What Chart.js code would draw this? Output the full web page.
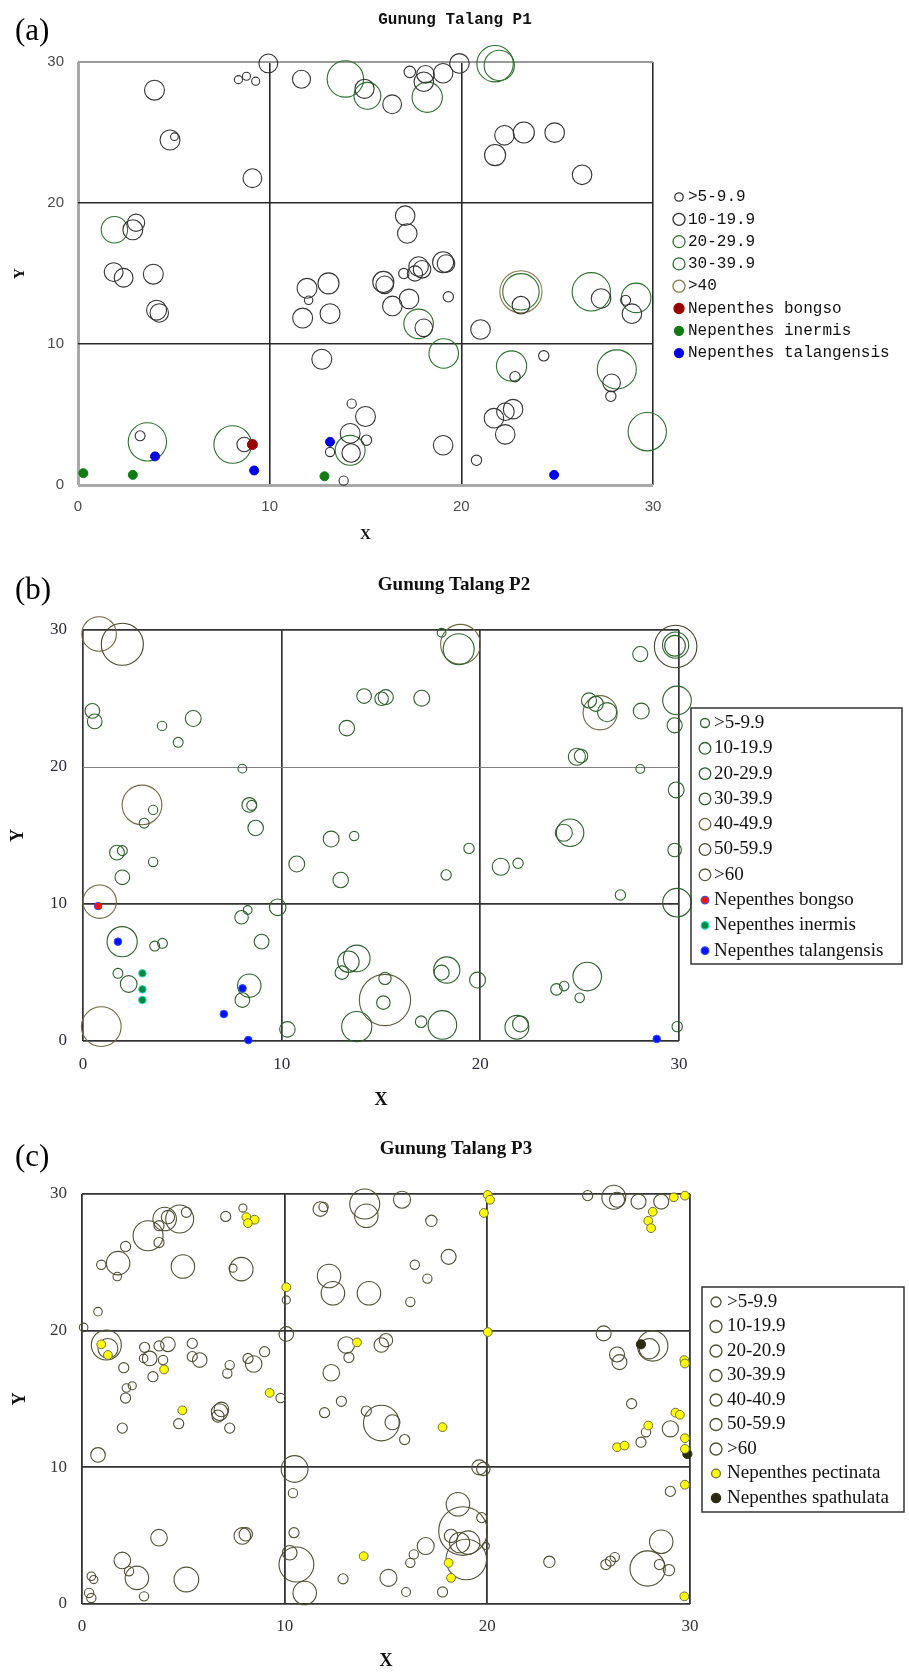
<!DOCTYPE html>
<html>
<head>
<meta charset="utf-8">
<script src="https://cdn.jsdelivr.net/npm/chart.js@4.4.1/dist/chart.umd.min.js"></script>
<style>
  html, body { margin: 0; padding: 0; background: #fff; }
  #fig { position: relative; width: 909px; height: 1673px; background: #fff; }
  #fig canvas { position: absolute; left: 0; }
</style>
</head>
<body>
<div id="fig">
  <canvas id="cA" width="909" height="560" style="top:0"></canvas>
  <canvas id="cB" width="909" height="550" style="top:560px"></canvas>
  <canvas id="cC" width="909" height="563" style="top:1110px"></canvas>
</div>
<script>
// tree positions [x, y, crown radius in metres], one array per DBH class
const axisTicks = [0, 10, 20, 30];

// Gunung Talang P1
const p1Labels = ['>5-9.9', '10-19.9', '20-29.9', '30-39.9', '>40',
  'Nepenthes bongso', 'Nepenthes inermis', 'Nepenthes talangensis'];
const p1Dbh5 = [[8.37,28.75,.21],[8.79,28.99,.21],[9.27,28.64,.21],[5.03,24.7,.2],[12.03,13.1,.22],
  [14.28,5.77,.24],[13.15,2.34,.24],[13.86,0.31,.24],[3.24,3.49,.26],[17.31,29.3,.3],[17.0,15.0,.27],
  [19.32,13.35,.27],[28.57,13.1,.26],[24.3,9.16,.27],[22.8,7.68,.27],[27.8,6.29,.27],[20.79,1.75,.27],
  [15.05,3.18,.27]];
const p1Dbh10 = [[9.93,29.9,.49],[11.66,28.78,.47],[3.99,28.0,.52],[4.8,24.47,.52],[9.1,21.76,.49],
  [2.86,18.1,.52],[3.03,18.6,.45],[1.86,15.1,.49],[2.38,14.7,.49],[3.93,14.95,.52],[4.1,12.4,.52],
  [4.24,12.2,.48],[11.95,13.95,.52],[13.07,14.3,.55],[11.72,11.84,.52],[13.15,12.15,.52],[12.72,8.92,.52],
  [15.0,4.86,.52],[14.2,3.66,.52],[14.25,2.27,.48],[8.67,2.87,.38],[14.95,28.1,.5],[16.39,27.0,.49],
  [18.13,29.13,.46],[18.04,28.6,.51],[19.05,29.2,.51],[19.9,29.9,.51],[22.25,24.8,.51],[23.26,25.0,.55],
  [24.87,24.99,.51],[21.76,23.4,.55],[26.3,22.0,.51],[17.07,19.1,.51],[17.18,17.84,.51],[19.05,15.8,.55],
  [19.2,15.7,.46],[17.77,15.5,.51],[17.95,15.3,.46],[17.58,15.0,.4],[15.93,14.4,.55],[16.0,14.2,.46],
  [16.4,12.7,.51],[17.27,13.2,.51],[18.04,11.15,.46],[23.11,12.75,.46],[27.29,13.23,.51],[28.9,12.15,.51],
  [21.0,11.03,.51],[27.84,7.25,.46],[21.7,4.74,.51],[22.3,5.2,.46],[22.7,5.38,.51],[22.29,3.59,.51],
  [19.05,2.82,.51]];
const p1Dbh20 = [[1.9,18.1,.69],[15.1,27.6,.7],[18.22,27.5,.79],[17.77,11.43,.77],[19.08,9.33,.77],
  [29.12,13.27,.77],[22.62,8.44,.79],[21.98,29.76,.79],[14.2,2.46,.78]];
const p1Dbh30 = [[13.95,28.8,.95],[21.76,29.88,.95],[23.11,13.7,.95],[26.78,13.7,1.0],[28.11,8.2,1.02],
  [29.7,3.78,1.0],[3.62,3.06,1.0],[8.07,2.87,.98]];
const p1Dbh40 = [[23.11,13.7,1.1]];
const p1Bongso = [[9.1,2.87]];
const p1Inermis = [[0.28,0.84],[2.86,0.72],[12.86,0.62]];
const p1Talang = [[13.15,3.06],[4.02,2.03],[9.19,1.03],[24.84,0.72]];

// Gunung Talang P2
const p2Labels = ['>5-9.9', '10-19.9', '20-29.9', '30-39.9', '40-49.9', '50-59.9', '>60',
  'Nepenthes bongso', 'Nepenthes inermis', 'Nepenthes talangensis'];
const p2Dbh5 = [[3.98,23.0,.235],[4.79,21.8,.25],[8.02,19.88,.22],[3.53,16.87,.235],[3.08,15.9,.25],
  [8.49,17.2,.25],[18.05,29.8,.22],[28.05,19.86,.22],[1.98,13.9,.25],[3.53,13.07,.235],[3.61,6.93,.25],
  [4.0,7.13,.25],[1.76,4.94,.25],[8.29,9.56,.22],[13.65,14.96,.235],[19.43,14.06,.26],[18.28,12.12,.26],
  [21.9,12.97,.26],[27.05,10.66,.26],[17.02,1.41,.29],[23.83,3.77,.29],[24.22,4.01,.24],[25.0,3.16,.24],
  [29.91,1.05,.26]];
const p2Dbh10 = [[0.47,24.1,.37],[0.59,23.33,.37],[5.55,23.54,.4],[8.37,17.23,.37],[8.69,15.55,.39],
  [13.28,22.84,.39],[14.15,25.18,.37],[15.03,24.98,.34],[15.24,25.1,.38],[17.05,25.02,.4],[28.05,28.24,.38],
  [29.78,23.04,.38],[25.47,24.86,.38],[25.81,24.61,.38],[28.1,24.08,.4],[24.86,20.75,.43],[25.07,20.8,.34],
  [29.86,18.33,.4],[24.2,15.2,.43],[1.71,13.75,.37],[1.98,11.95,.37],[2.3,4.16,.42],[7.98,9.03,.34],
  [9.8,9.76,.42],[8.99,7.25,.37],[8.02,2.99,.37],[10.29,0.85,.39],[10.76,12.92,.4],[12.49,14.74,.4],
  [12.97,11.75,.39],[13.03,4.99,.34],[21.03,12.72,.43],[29.78,13.94,.34],[18.05,4.99,.38],[19.86,4.45,.4],
  [15.12,2.8,.34],[15.2,4.57,.31],[22.02,1.24,.4]];
const p2Dbh20 = [[29.83,28.9,.66],[29.8,28.85,.52],[26.38,24.0,.48],[8.37,4.04,.59],[13.78,6.03,.67],
  [13.36,5.79,.54],[18.31,5.18,.66],[21.84,1.0,.6]];
const p2Dbh30 = [[18.91,28.6,.78],[29.9,24.86,.72],[24.52,15.2,.69],[1.97,7.25,.76],[13.78,1.05,.76],
  [29.9,10.1,.72],[18.09,1.17,.72],[25.38,4.7,.72]];
const p2Dbh40 = [[0.81,29.71,.87],[2.97,17.23,1.0],[19.0,28.96,1.0],[26.03,23.96,.86],[0.84,10.17,.84],
  [0.92,1.05,1.0]];
const p2Dbh50 = [[1.98,28.96,1.06],[29.83,28.8,1.07]];
const p2Dbh60 = [[15.2,2.99,1.29]];
const p2Bongso = [[0.76,9.85]];
const p2Inermis = [[2.99,4.94],[2.99,3.77],[2.99,2.99]];
const p2Talang = [[1.76,7.25],[8.03,3.84],[7.09,1.97],[8.32,0.07],[28.88,0.15]];

// Gunung Talang P3
const p3Labels = ['>5-9.9', '10-19.9', '20-20.9', '30-39.9', '40-40.9', '50-59.9', '>60',
  'Nepenthes pectinata', 'Nepenthes spathulata'];
const p3Dbh5 = [[7.94,28.97,.2],[7.09,28.36,.25],[5.15,28.66,.25],[3.8,27.68,.25],[3.8,26.45,.25],
  [2.15,26.16,.25],[0.95,24.82,.23],[1.74,23.96,.21],[7.45,24.57,.2],[0.79,21.39,.21],[0.08,20.24,.21],
  [10.08,22.25,.2],[3.09,18.78,.25],[3.04,17.97,.21],[3.8,18.88,.25],[4.0,17.85,.23],[2.06,17.29,.25],
  [3.5,16.63,.25],[5.44,19.07,.25],[5.44,18.1,.25],[7.29,17.48,.23],[7.17,16.87,.23],[8.19,17.97,.25],
  [9.01,18.46,.25],[2.19,15.8,.21],[2.48,15.97,.2],[11.92,29.05,.23],[13.17,18.04,.25],[2.15,15.07,.25],
  [1.99,12.87,.25],[4.77,13.19,.25],[7.29,12.87,.25],[9.8,15.07,.23],[10.41,8.11,.23],[2.32,2.4,.23],
  [0.46,2.03,.21],[0.58,1.79,.2],[0.35,0.81,.23],[0.46,0.44,.23],[3.06,0.56,.23],[10.46,5.22,.25],
  [11.97,14.0,.25],[12.8,14.83,.25],[14.03,14.12,.25],[12.88,1.84,.25],[17.24,28.04,.28],[16.42,24.82,.23],
  [17.04,23.81,.23],[16.2,22.1,.23],[24.95,29.88,.25],[15.92,12.03,.25],[27.12,14.66,.25],[27.83,12.57,.23],
  [27.58,11.84,.25],[29.03,8.24,.25],[19.72,6.32,.25],[19.93,4.24,.17],[16.37,3.63,.23],[16.2,3.01,.23],
  [15.99,0.88,.22],[17.79,0.88,.25],[23.06,3.09,.28],[25.85,2.89,.25],[26.07,3.14,.25],[26.29,3.43,.23],
  [28.49,2.89,.25],[28.96,2.48,.28]];
const p3Dbh10 = [[4.24,28.31,.33],[10.08,19.76,.36],[3.34,17.97,.36],[4.24,19.0,.36],[5.81,17.85,.36],
  [8.47,17.56,.41],[11.76,28.9,.36],[13.04,18.95,.41],[14.77,18.95,.36],[15.0,19.3,.33],[12.3,16.92,.41],
  [0.79,10.91,.36],[6.79,14.04,.41],[6.88,14.24,.36],[6.71,13.75,.3],[3.8,4.85,.41],[7.91,4.98,.41],
  [8.08,5.1,.33],[1.99,3.19,.41],[10.25,3.75,.36],[15.79,29.58,.42],[18.09,25.4,.37],[26.4,29.58,.37],
  [27.46,29.44,.37],[28.58,29.44,.37],[25.74,19.8,.37],[26.4,18.26,.37],[26.52,17.7,.37],[15.32,13.3,.37],
  [29.03,12.82,.4],[19.6,10.0,.37],[19.8,9.88,.33],[18.21,4.98,.33],[16.96,4.24,.42],[15.12,1.91,.42]];
const p3Dbh20 = [[4.08,28.17,.58],[1.78,24.94,.58],[4.98,24.69,.58],[7.86,24.5,.58],[1.28,18.7,.49],
  [14.03,28.41,.58],[12.19,24.0,.58],[12.38,22.74,.58],[14.16,22.74,.58],[10.49,9.88,.66],[2.71,1.91,.58],
  [5.15,1.79,.61],[10.99,0.81,.58],[26.24,29.76,.59],[27.99,18.68,.5],[18.55,7.3,.58],[19.05,4.49,.58],
  [18.63,4.49,.5],[28.58,4.56,.58]];
const p3Dbh30 = [[4.82,28.17,.69],[3.26,26.94,.74],[1.2,18.95,.74],[13.95,29.27,.74],[28.16,18.88,.75]];
const p3Dbh40 = [[10.58,2.89,.86],[14.77,13.24,.88],[27.91,2.6,.87]];
const p3Dbh50 = [[18.96,3.26,1.0]];
const p3Dbh60 = [[18.8,5.34,1.2]];
const p3Pectinata = [[8.11,28.31],[8.52,28.12],[8.19,27.87],[10.08,23.18],[0.95,19.0],[1.28,18.22],
  [4.05,17.16],[9.26,15.45],[13.57,19.14],[4.95,14.17],[13.9,3.5],[20.02,29.93],[20.13,29.58],[19.83,28.61],
  [29.2,29.76],[29.75,29.88],[28.16,28.7],[27.94,28.04],[28.08,27.5],[20.02,19.9],[29.72,17.85],[29.75,17.6],
  [17.79,12.94],[29.28,14.0],[29.5,13.85],[27.94,13.06],[26.4,11.47],[26.77,11.59],[29.75,12.13],
  [29.75,11.35],[29.75,8.73],[18.09,3.01],[18.21,1.91],[29.72,0.56]];
const p3Spathulata = [[27.58,19.0],[29.87,10.98]];

// metres -> pixels through the x scale
function unitPx(chart) {
  const s = chart.scales.x;
  return Math.abs(s.getPixelForValue(1) - s.getPixelForValue(0));
}

function treeSet(label, rows, color, legendRadius) {
  return {
    label: label,
    data: rows.map(p => ({ x: p[0], y: p[1], r: p[2] })),
    pointBorderColor: color,
    pointBackgroundColor: 'rgba(0,0,0,0)',
    pointBorderWidth: 1.1,
    pointRadius: c => (c.raw ? c.raw.r * unitPx(c.chart) : 0),
    legendRadius: legendRadius,
    filled: false,
    clip: false,
    order: 1
  };
}

function speciesSet(label, rows, fill, edge, radius) {
  return {
    label: label,
    data: rows.map(p => ({ x: p[0], y: p[1] })),
    pointBackgroundColor: fill,
    pointBorderColor: edge,
    pointBorderWidth: 1,
    pointRadius: radius,
    legendRadius: radius,
    filled: true,
    clip: false,
    order: 0
  };
}

// panel letter, title and legend
const panelDecor = {
  id: 'panelDecor',
  afterDraw(chart, args, o) {
    const ctx = chart.ctx;
    ctx.save();
    ctx.textBaseline = 'middle';
    ctx.textAlign = 'left';
    ctx.fillStyle = '#000';
    ctx.font = o.letterFont;
    ctx.fillText(o.letter, o.letterX, o.letterY);
    ctx.textAlign = 'center';
    ctx.font = o.titleFont;
    ctx.fillStyle = '#111';
    ctx.fillText(o.title, o.titleX, o.titleY);

    if (o.box) {
      ctx.strokeStyle = '#333';
      ctx.lineWidth = 1.5;
      ctx.strokeRect(o.box[0], o.box[1], o.box[2] - o.box[0], o.box[3] - o.box[1]);
    }
    ctx.textAlign = 'left';
    ctx.font = o.legendFont;
    chart.data.datasets.forEach((ds, i) => {
      const y = o.legendY + i * o.legendDy;
      ctx.beginPath();
      ctx.arc(o.markerX, y, ds.legendRadius, 0, Math.PI * 2);
      if (ds.filled) {
        ctx.fillStyle = ds.pointBackgroundColor;
        ctx.fill();
      }
      ctx.lineWidth = 1.3;
      ctx.strokeStyle = ds.pointBorderColor;
      ctx.stroke();
      ctx.fillStyle = '#111';
      ctx.fillText(ds.label, o.textX, y);
    });
    ctx.restore();
  }
};

function makePanel(id, p) {
  return new Chart(document.getElementById(id), {
    type: 'scatter',
    data: { datasets: p.datasets },
    options: {
      responsive: false,
      animation: false,
      events: [],
      layout: { padding: { left: 0, top: p.top, right: p.right, bottom: 0 } },
      scales: {
        x: {
          type: 'linear', min: 0, max: 30,
          afterFit: s => { s.height = p.xHeight; },
          afterBuildTicks: s => { s.ticks = axisTicks.map(v => ({ value: v })); },
          ticks: { padding: p.xPad, color: p.tickColor, font: p.tickFont, maxRotation: 0 },
          grid: {
            drawTicks: false,
            color: c => p.gridX(c.tick.value).color,
            lineWidth: c => p.gridX(c.tick.value).width
          },
          border: { display: false },
          title: { display: true, text: 'X', color: '#111', font: p.axisFont,
                   padding: { top: 0, bottom: p.xTitlePad } }
        },
        y: {
          type: 'linear', min: 0, max: 30,
          afterFit: s => { s.width = p.yWidth; },
          afterBuildTicks: s => { s.ticks = axisTicks.map(v => ({ value: v })); },
          ticks: { padding: p.yPad, color: p.tickColor, font: p.tickFont },
          grid: {
            drawTicks: false,
            color: c => p.gridY(c.tick.value).color,
            lineWidth: c => p.gridY(c.tick.value).width
          },
          border: { display: false },
          title: { display: true, text: 'Y', color: '#111', font: p.axisFont,
                   padding: { top: p.yTitlePad, bottom: 0 } }
        }
      },
      plugins: {
        legend: { display: false },
        tooltip: { enabled: false },
        panelDecor: p.decor
      }
    },
    plugins: [panelDecor]
  });
}

const serif = '"Liberation Serif", "Times New Roman", serif';
const mono = '"Liberation Mono", "Courier New", monospace';

// (a)
makePanel('cA', {
  top: 62, right: 256, xHeight: 75, yWidth: 78,
  xPad: 14.5, yPad: 14, xTitlePad: 17.5, yTitlePad: 12.5,
  tickColor: '#4a4a4a',
  tickFont: { family: '"Liberation Sans", Arial, sans-serif', size: 15, lineHeight: 1 },
  axisFont: { family: serif, size: 15, weight: 'bold', lineHeight: 1 },
  gridX: v => v === 0 ? { color: '#a9a9a9', width: 3 } : { color: '#2a2a2a', width: 1.6 },
  gridY: v => v === 0 ? { color: '#a9a9a9', width: 3 }
            : v === 30 ? { color: '#9a9a9a', width: 2 } : { color: '#2a2a2a', width: 1.6 },
  datasets: [
    treeSet(p1Labels[0], p1Dbh5, '#333333', 4.2),
    treeSet(p1Labels[1], p1Dbh10, '#333333', 6),
    treeSet(p1Labels[2], p1Dbh20, '#2f6f30', 6),
    treeSet(p1Labels[3], p1Dbh30, '#2f6f30', 6),
    treeSet(p1Labels[4], p1Dbh40, '#857a4c', 6),
    speciesSet(p1Labels[5], p1Bongso, '#990000', '#990000', 5),
    speciesSet(p1Labels[6], p1Inermis, '#117a11', '#117a11', 4.5),
    speciesSet(p1Labels[7], p1Talang, '#0000e6', '#0000e6', 4.5)
  ],
  decor: {
    letter: '(a)', letterX: 15, letterY: 32, letterFont: '31px ' + serif,
    title: 'Gunung Talang P1', titleX: 455, titleY: 20, titleFont: 'bold 16px ' + mono,
    box: null, markerX: 679, textX: 688, legendY: 197, legendDy: 22.3,
    legendFont: '16px ' + mono
  }
});

// (b)
const p2Green = '#2e5e2e';
makePanel('cB', {
  top: 70, right: 230, xHeight: 69, yWidth: 83,
  xPad: 15.5, yPad: 16, xTitlePad: 1, yTitlePad: 9,
  tickColor: '#2b2b38',
  tickFont: { family: serif, size: 17, lineHeight: 1 },
  axisFont: { family: serif, size: 18, weight: 'bold', lineHeight: 1 },
  gridX: v => ({ color: '#333333', width: 1.7 }),
  gridY: v => v === 20 ? { color: '#808080', width: 1 } : { color: '#333333', width: 1.7 },
  datasets: [
    treeSet(p2Labels[0], p2Dbh5, p2Green, 4.5),
    treeSet(p2Labels[1], p2Dbh10, p2Green, 5.8),
    treeSet(p2Labels[2], p2Dbh20, p2Green, 5.8),
    treeSet(p2Labels[3], p2Dbh30, p2Green, 5.8),
    treeSet(p2Labels[4], p2Dbh40, '#6f6a45', 5.8),
    treeSet(p2Labels[5], p2Dbh50, '#48452f', 5.8),
    treeSet(p2Labels[6], p2Dbh60, '#5a573c', 5.8),
    speciesSet(p2Labels[7], p2Bongso, '#ff1010', '#4050d0', 3.8),
    speciesSet(p2Labels[8], p2Inermis, '#008a3c', '#30d8c8', 3.8),
    speciesSet(p2Labels[9], p2Talang, '#0010ff', '#2a48ff', 3.8)
  ],
  decor: {
    letter: '(b)', letterX: 15, letterY: 31, letterFont: '31px ' + serif,
    title: 'Gunung Talang P2', titleX: 454, titleY: 25, titleFont: 'bold 19px ' + serif,
    box: [691, 148, 902, 404], markerX: 705, textX: 714, legendY: 163, legendDy: 25.3,
    legendFont: '19px ' + serif
  }
});

// (c)
const p3Olive = '#4f4f36';
makePanel('cC', {
  top: 84, right: 219, xHeight: 69, yWidth: 82,
  xPad: 14.2, yPad: 15, xTitlePad: 2.3, yTitlePad: 11,
  tickColor: '#333333',
  tickFont: { family: serif, size: 17, lineHeight: 1 },
  axisFont: { family: serif, size: 18, weight: 'bold', lineHeight: 1 },
  gridX: v => ({ color: '#333333', width: 1.8 }),
  gridY: v => ({ color: '#333333', width: 1.8 }),
  datasets: [
    treeSet(p3Labels[0], p3Dbh5, p3Olive, 5),
    treeSet(p3Labels[1], p3Dbh10, p3Olive, 6),
    treeSet(p3Labels[2], p3Dbh20, p3Olive, 6),
    treeSet(p3Labels[3], p3Dbh30, p3Olive, 6),
    treeSet(p3Labels[4], p3Dbh40, p3Olive, 6),
    treeSet(p3Labels[5], p3Dbh50, p3Olive, 6),
    treeSet(p3Labels[6], p3Dbh60, p3Olive, 6),
    speciesSet(p3Labels[7], p3Pectinata, '#ffff00', '#6d6d3a', 4.4),
    speciesSet(p3Labels[8], p3Spathulata, '#2b2b12', '#2b2b12', 4.6)
  ],
  decor: {
    letter: '(c)', letterX: 15, letterY: 48, letterFont: '31px ' + serif,
    title: 'Gunung Talang P3', titleX: 456, titleY: 39, titleFont: 'bold 19px ' + serif,
    box: [702, 177, 904, 402], markerX: 716, textX: 727, legendY: 192, legendDy: 24.5,
    legendFont: '19px ' + serif
  }
});
</script>
</body>
</html>
